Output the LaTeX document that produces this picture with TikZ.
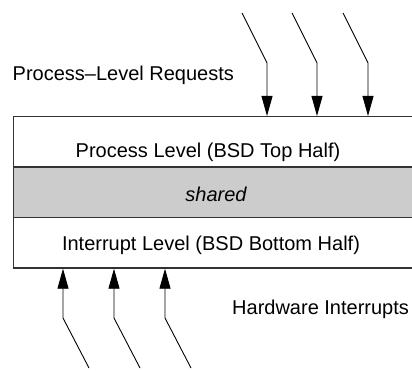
\documentclass[tikz,border=0pt]{standalone}
\usepackage{fontspec}
\setmainfont{Liberation Sans}
\usetikzlibrary{arrows.meta}
\begin{document}
\begin{tikzpicture}[x=1pt,y=-1pt,
  every node/.style={font=\fontsize{20}{24}\selectfont, inner sep=0pt},
  band/.style={draw=black!80, line width=1.2pt, minimum width=430pt, minimum height=50.5pt, anchor=north west},
  label/.style={anchor=base},
  arr/.style={draw=black, line width=0.9pt, -{Triangle[length=20pt,width=11pt]}}]
  \useasboundingbox (0,0) rectangle (412,371);
  \clip (0,0) rectangle (412,371);

  % the three layers of the kernel
  \node[band] (top) at (13,116) {};
  \node[band, fill=black!20] (mid) at (13,166.5) {};
  \node[band] (bot) at (13,217) {};

  \node[label] (toptxt) at (208,157.5) {Process Level (BSD Top Half)};
  \node[label] (midtxt) at (216,202) {\itshape shared};
  \node[label] (bottxt) at (211,251) {Interrupt Level (BSD Bottom Half)};

  \node[anchor=base west] (req) at (12.5,80.5) {Process--Level Requests};
  \node[anchor=base west] (hw) at (232,314.5) {Hardware Interrupts};

  % incoming requests from above
  \foreach \i/\x in {1/267,2/317,3/368} {
    \coordinate (rs\i) at (\x-25,13);
    \coordinate (rb\i) at (\x,63);
    \draw[arr] (rs\i) -- (rb\i) -- (rb\i |- top.north);
  }

  % interrupts arriving from below
  \foreach \i/\x in {1/63,2/114,3/165} {
    \coordinate (hs\i) at (\x+26,368);
    \coordinate (hb\i) at (\x,318);
    \draw[arr] (hs\i) -- (hb\i) -- (hb\i |- bot.south);
  }
\end{tikzpicture}
\end{document}
